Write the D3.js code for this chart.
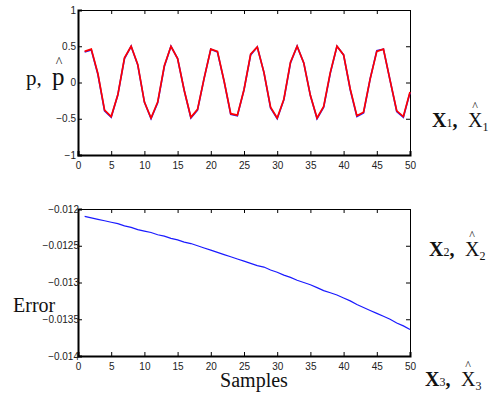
<!DOCTYPE html>
<html>
<head>
<meta charset="utf-8">
<script src="https://cdn.jsdelivr.net/npm/d3@7"></script>
<style>
  body { margin: 0; background: #fff; }
  .tick text { font-family: "Liberation Sans", Arial, sans-serif; font-size: 10px; fill: #222; }
  .lbl { font-family: "Liberation Serif", "Times New Roman", serif; fill: #111; }
</style>
</head>
<body>
<div id="chart"></div>
<script>
// samples 1..50
const samples = d3.range(1, 51);

// state p (blue) and estimate p-hat (red)
const pTrue = [0.42, 0.45, 0.11, -0.39, -0.48, -0.17, 0.33, 0.50, 0.24, -0.27,
  -0.50, -0.28, 0.22, 0.50, 0.33, -0.11, -0.49, -0.38, 0.06, 0.46,
  0.42, 0.02, -0.44, -0.46, -0.10, 0.38, 0.49, 0.14, -0.35, -0.50,
  -0.24, 0.27, 0.50, 0.27, -0.18, -0.50, -0.34, 0.13, 0.50, 0.38,
  -0.10, -0.47, -0.42, 0.05, 0.44, 0.46, 0.03, -0.40, -0.48, -0.14];
const pEst = [0.43, 0.46, 0.12, -0.38, -0.47, -0.17, 0.34, 0.50, 0.25, -0.27,
  -0.49, -0.27, 0.23, 0.50, 0.33, -0.11, -0.48, -0.37, 0.06, 0.46,
  0.43, 0.02, -0.43, -0.45, -0.10, 0.39, 0.49, 0.14, -0.34, -0.49,
  -0.23, 0.28, 0.50, 0.27, -0.18, -0.49, -0.33, 0.14, 0.50, 0.38,
  -0.09, -0.46, -0.41, 0.05, 0.43, 0.46, 0.03, -0.39, -0.47, -0.13];

// estimation error
const errVals = [-0.01210, -0.01212, -0.01214, -0.01216, -0.01218, -0.01220, -0.01223, -0.01225, -0.01228, -0.01230,
  -0.01232, -0.01235, -0.01237, -0.01240, -0.01242, -0.01245, -0.01247, -0.01250, -0.01253, -0.01256,
  -0.01259, -0.01262, -0.01265, -0.01268, -0.01271, -0.01274, -0.01277, -0.01279, -0.01283, -0.01286,
  -0.01290, -0.01293, -0.01297, -0.01300, -0.01303, -0.01307, -0.01311, -0.01314, -0.01317, -0.01321,
  -0.01325, -0.01330, -0.01334, -0.01338, -0.01342, -0.01346, -0.01350, -0.01355, -0.01359, -0.01364];

const xTicks = [0, 5, 10, 15, 20, 25, 30, 35, 40, 45, 50];
const topYTicks = [-1, -0.5, 0, 0.5, 1];
const botYTicks = [-0.014, -0.0135, -0.013, -0.0125, -0.012];

const width = 492, height = 399;
const svg = d3.select('#chart').append('svg')
  .attr('width', width).attr('height', height);

// draws a matlab style boxed axes, returns scales
function boxAxes(top, bottom, yDomain, yTicks, yFmt, labelX) {
  const x = d3.scaleLinear().domain([0, 50]).range([78, 410]);
  const y = d3.scaleLinear().domain(yDomain).range([bottom, top]);
  const g = svg.append('g');

  // top and right box ticks
  g.append('g').attr('transform', `translate(0,${top})`)
    .call(d3.axisTop(x).tickValues(xTicks).tickSize(-4).tickFormat(''))
    .call(a => a.select('.domain').attr('stroke', '#000').attr('stroke-width', 1));
  g.append('g').attr('transform', 'translate(410,0)')
    .call(d3.axisRight(y).tickValues(yTicks).tickSize(-4).tickFormat(''))
    .call(a => a.select('.domain').attr('stroke', '#000').attr('stroke-width', 1));

  g.append('g').attr('transform', `translate(0,${bottom})`)
    .call(d3.axisBottom(x).tickValues(xTicks).tickSize(-4).tickPadding(7).tickFormat(d3.format('d')))
    .call(a => a.select('.domain').attr('stroke', '#000').attr('stroke-width', 2));
  g.append('g').attr('transform', 'translate(78,0)')
    .call(d3.axisLeft(y).tickValues(yTicks).tickSize(-4).tickPadding(labelX).tickFormat(yFmt))
    .call(a => a.select('.domain').attr('stroke', '#000').attr('stroke-width', 2));
  return { x, y, g };
}

// top panel
const t = boxAxes(10, 155, [-1, 1], topYTicks, d => d3.format('')(d), 2);
const lineTop = (vals) => d3.line().x((d, i) => t.x(samples[i])).y(d => t.y(d))(vals);
svg.append('path').attr('d', lineTop(pTrue))
  .attr('fill', 'none').attr('stroke', '#2020ff').attr('stroke-width', 1.6);
svg.append('path').attr('d', lineTop(pEst))
  .attr('fill', 'none').attr('stroke', '#ff0000').attr('stroke-width', 1.7);

// bottom panel
const b = boxAxes(209, 356, [-0.014, -0.012], botYTicks, d => d3.format('')(+d.toFixed(4)), -1);
svg.append('path')
  .attr('d', d3.line().x((d, i) => b.x(samples[i])).y(d => b.y(d))(errVals))
  .attr('fill', 'none').attr('stroke', '#1a1aff').attr('stroke-width', 1.2);

// left labels
svg.append('text').attr('class', 'lbl').attr('x', 26).attr('y', 85)
  .style('font-size', '21px').text('p,');
svg.append('text').attr('class', 'lbl').attr('x', 52).attr('y', 85)
  .style('font-size', '25px').text('p');
svg.append('text').attr('class', 'lbl').attr('x', 59).attr('y', 67)
  .attr('text-anchor', 'middle').style('font-size', '14px').text('^');

svg.append('text').attr('class', 'lbl').attr('x', 13).attr('y', 312)
  .style('font-size', '20px').text('Error');
svg.append('text').attr('class', 'lbl').attr('x', 254).attr('y', 387)
  .attr('text-anchor', 'middle').style('font-size', '20px').text('Samples');

// right state labels
function stateLabel(x0, base, idx) {
  const tx = svg.append('text').attr('class', 'lbl').attr('x', x0).attr('y', base)
    .style('font-size', '20px').style('font-weight', 'bold');
  tx.append('tspan').text('X');
  tx.append('tspan').style('font-size', '12px').style('font-weight', 'normal').text(idx);
  tx.append('tspan').text(',');
  const t2 = svg.append('text').attr('class', 'lbl').attr('x', x0 + 36).attr('y', base)
    .style('font-size', '20px');
  t2.append('tspan').text('X');
  t2.append('tspan').attr('dy', 4).style('font-size', '12px').text(idx);
  svg.append('text').attr('class', 'lbl').attr('x', x0 + 43).attr('y', base - 17)
    .attr('text-anchor', 'middle').style('font-size', '12px').text('^');
}
stateLabel(432, 127, '1');
stateLabel(429, 256, '2');
stateLabel(425, 386, '3');
</script>
</body>
</html>
